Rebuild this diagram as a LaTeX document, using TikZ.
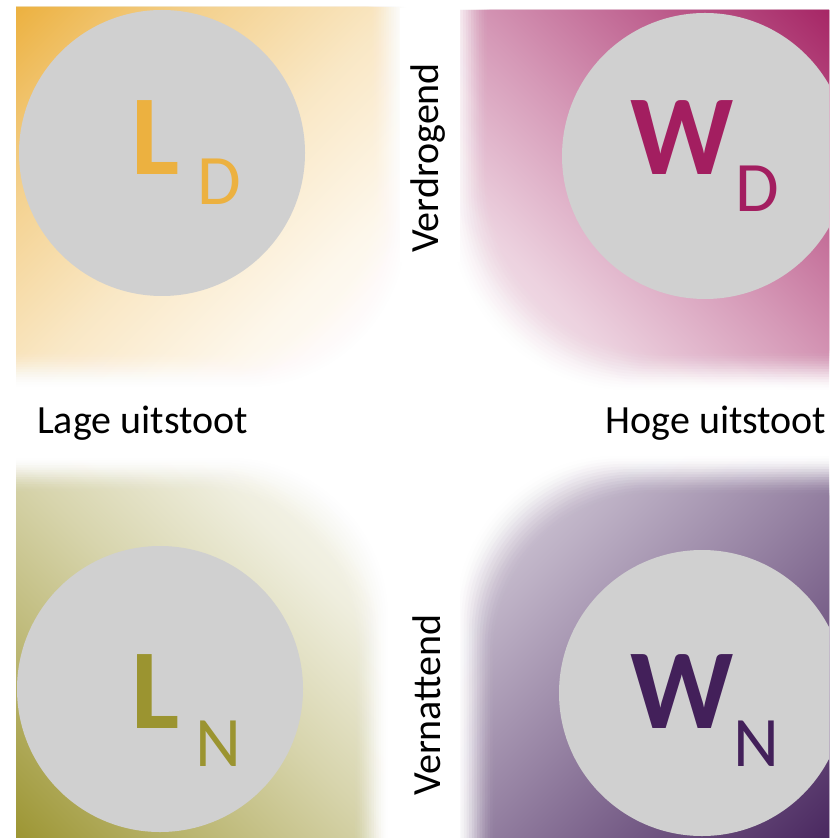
\documentclass[tikz,border=0pt]{standalone}
\usepackage{fontspec}
\setmainfont{Carlito}

\definecolor{cLD}{HTML}{ECB140}
\definecolor{cWD}{HTML}{A31E60}
\definecolor{cLN}{HTML}{9B9430}
\definecolor{cWN}{HTML}{43205A}
\definecolor{disc}{HTML}{D0D0D0}

% diagonal fades: outer corner at 25bp, inner corner (white) at 75bp
\pgfdeclarehorizontalshading{fadeLD}{100bp}{color(0bp)=(cLD); color(25bp)=(cLD);
  color(37.5bp)=(cLD!58!white); color(50bp)=(cLD!30!white);
  color(62.5bp)=(cLD!10!white); color(75bp)=(white); color(100bp)=(white)}
\pgfdeclarehorizontalshading{fadeWD}{100bp}{color(0bp)=(cWD); color(25bp)=(cWD);
  color(37.5bp)=(cWD!72!white); color(50bp)=(cWD!45!white);
  color(62.5bp)=(cWD!20!white); color(75bp)=(cWD!5!white); color(100bp)=(white)}
\pgfdeclarehorizontalshading{fadeLN}{100bp}{color(0bp)=(cLN); color(25bp)=(cLN);
  color(37.5bp)=(cLN!68!white); color(50bp)=(cLN!40!white);
  color(62.5bp)=(cLN!16!white); color(75bp)=(cLN!3!white); color(100bp)=(white)}
\pgfdeclarehorizontalshading{fadeWN}{100bp}{color(0bp)=(cWN); color(25bp)=(cWN);
  color(37.5bp)=(cWN!78!white); color(50bp)=(cWN!56!white);
  color(62.5bp)=(cWN!35!white); color(75bp)=(cWN!15!white); color(100bp)=(white)}

% soft-edged quadrant: #1,#2 outer corner, #3,#4 mirror, #5 width, #6 height,
% #7 shading, #8 blur width, #9 inner corner radius
% nested layers give a smoothstep ramp across the blur band
\newcommand\softquad[9]{%
  \pgfmathsetmacro\qD{(#5+#6)/sqrt(2)}%
  \foreach \k in {1,...,16}{%
    \pgfmathsetmacro\qs{(\k-1)*#8/16}%
    \pgfmathsetmacro\qu{\k/16}%
    \pgfmathsetmacro\qv{(\k-1)/16}%
    \pgfmathsetmacro\qcu{3*\qu*\qu-2*\qu*\qu*\qu}%
    \pgfmathsetmacro\qcv{3*\qv*\qv-2*\qv*\qv*\qv}%
    \pgfmathsetmacro\qa{\k==16 ? 1 : 1-(1-\qcu)/(1-\qcv)}%
    \begin{scope}
      \clip[shift={(#1,#2)}, xscale=#3, yscale=#4]
        (0,0) -- (#5-\qs,0) -- (#5-\qs,#6-\qs-#9)
        arc[start angle=0,end angle=90,radius=#9] -- (0,#6-\qs) -- cycle;
      \begin{scope}[transform canvas={shift={(#1,#2)}, xscale=#3, yscale=#4, rotate=-45}]
        \shade[shading=#7, fill opacity=\qa] (0,-\qD) rectangle (\qD,\qD);
      \end{scope}
    \end{scope}
  }%
}

\tikzset{
  disk/.style={circle, fill=disc, inner sep=0pt, minimum size=143pt},
  bigletter/.style={anchor=base, inner sep=0pt, font=\fontsize{57}{57}\selectfont\bfseries},
  subletter/.style={anchor=base, inner sep=0pt, font=\fontsize{35.5}{35.5}\selectfont},
  axislabel/.style={anchor=base, inner sep=0pt, font=\fontsize{20}{20}\selectfont}
}

\begin{document}
\begin{tikzpicture}[x=0.5pt, y=-0.5pt]
  \useasboundingbox (0,0) rectangle (829,838);
  \clip (0,0) rectangle (829,838);
  \fill[white] (0,0) rectangle (829,838);

  % four coloured fields fading towards the centre
  \softquad{16}{7}{1}{1}{390}{380}{fadeLD}{40}{160}
  \softquad{854}{10}{-1}{1}{404}{380}{fadeWD}{42}{180}
  \softquad{16}{846}{1}{-1}{372}{388}{fadeLN}{38}{160}
  \softquad{854}{846}{-1}{-1}{398}{390}{fadeWN}{42}{160}

  % white backing of the axis labels
  \fill[white] (28,397) rectangle (255,455);
  \fill[white] (595,397) rectangle (829,455);
  \fill[white] (400,8) rectangle (460,262);
  \fill[white] (400,480) rectangle (460,838);

  % discs
  \node[disk] (ld) at (162,153) {};
  \node[disk] (wd) at (705,156) {};
  \node[disk] (ln) at (160,689) {};
  \node[disk] (wn) at (702,693) {};

  % letters
  \node[bigletter, text=cLD] (ldL) at (156,175) {L};
  \node[subletter, text=cLD] (ldD) at (219,205) {D};
  \node[bigletter, text=cWD] (wdW) at (682,175) {W};
  \node[subletter, text=cWD] (wdD) at (757,212) {D};
  \node[bigletter, text=cLN] (lnL) at (156,728) {L};
  \node[subletter, text=cLN] (lnN) at (218,766) {N};
  \node[bigletter, text=cWN] (wnW) at (682,728) {W};
  \node[subletter, text=cWN] (wnN) at (756,766) {N};

  % axis labels
  \node[axislabel] (low) at (142.5,433) {Lage uitstoot};
  \node[axislabel] (high) at (716,433) {Hoge uitstoot};
  \node[axislabel, rotate=90] (dry) at (438,158) {Verdrogend};
  \node[axislabel, rotate=90] (wet) at (440,705) {Vernattend};
\end{tikzpicture}
\end{document}
